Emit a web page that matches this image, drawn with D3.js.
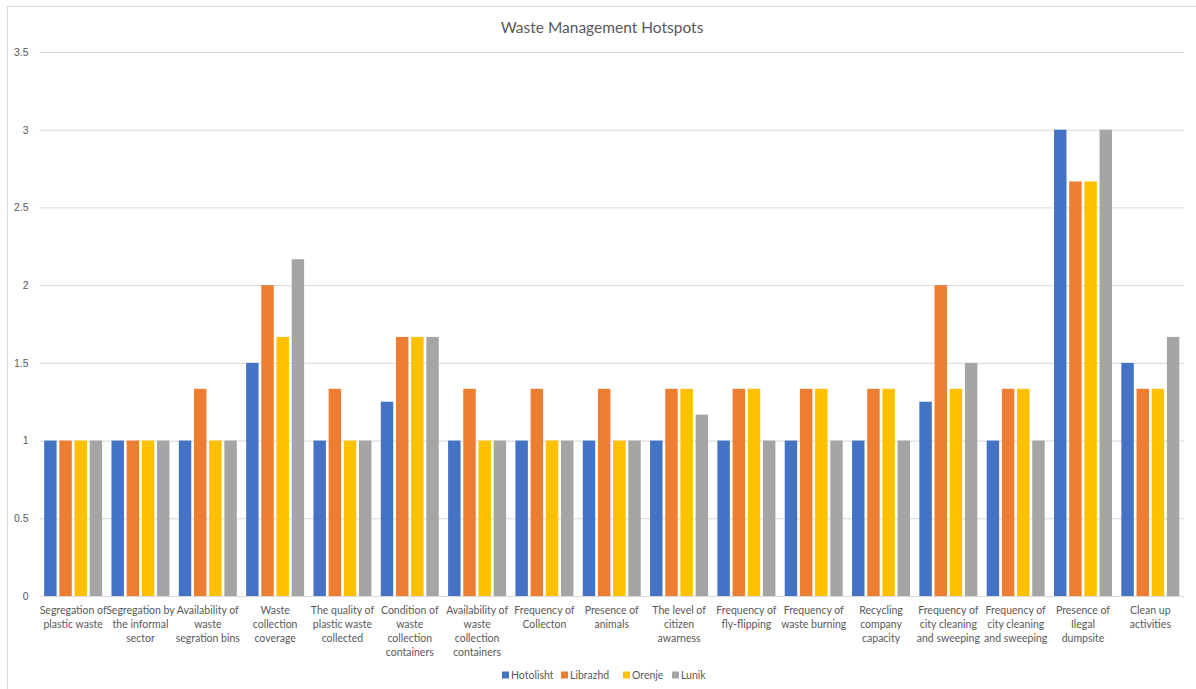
<!DOCTYPE html>
<html>
<head>
<meta charset="utf-8">
<script src="https://cdn.jsdelivr.net/npm/d3@7"></script>
<style>
  html, body { margin: 0; padding: 0; background: #fff; }
  svg { display: block; font-family: Lato, "Open Sans", "Liberation Sans", sans-serif; }
</style>
</head>
<body>
<svg id="chart" width="1196" height="689"></svg>
<script>
const title = "Waste Management Hotspots";
const categories = [
  "Segregation of\nplastic waste",
  "Segregation by\nthe informal\nsector",
  "Availability of\nwaste\nsegration bins",
  "Waste\ncollection\ncoverage",
  "The quality of\nplastic waste\ncollected",
  "Condition of\nwaste\ncollection\ncontainers",
  "Availability of\nwaste\ncollection\ncontainers",
  "Frequency of\nCollecton",
  "Presence of\nanimals",
  "The level of\ncitizen\nawarness",
  "Frequency of\nfly-flipping",
  "Frequency of\nwaste burning",
  "Recycling\ncompany\ncapacity",
  "Frequency of\ncity cleaning\nand sweeping",
  "Frequency of\ncity cleaning\nand sweeping",
  "Presence of\nIlegal\ndumpsite",
  "Clean up\nactivities"
];
const seriesNames = ["Hotolisht", "Librazhd", "Orenje", "Lunik"];
const hotolisht = [1, 1, 1, 1.5, 1, 1.25, 1, 1, 1, 1, 1, 1, 1, 1.25, 1, 3, 1.5];
const librazhd  = [1, 1, 1.333, 2, 1.333, 1.667, 1.333, 1.333, 1.333, 1.333, 1.333, 1.333, 1.333, 2, 1.333, 2.667, 1.333];
const orenje    = [1, 1, 1, 1.667, 1, 1.667, 1, 1, 1, 1.333, 1.333, 1.333, 1.333, 1.333, 1.333, 2.667, 1.333];
const lunik     = [1, 1, 1, 2.167, 1, 1.667, 1, 1, 1, 1.167, 1, 1, 1, 1.5, 1, 3, 1.667];
const yTicks = [0, 0.5, 1, 1.5, 2, 2.5, 3, 3.5];
const colors = ["#4472C4", "#ED7D31", "#FFC000", "#A5A5A5"];

const seriesValues = [hotolisht, librazhd, orenje, lunik];

const svg = d3.select("#chart");
const W = 1196, H = 689;
const plot = { left: 39.5, right: 1184, top: 52, bottom: 596 };

// chart frame
svg.append("rect")
  .attr("x", 7.5).attr("y", 6.5)
  .attr("width", W).attr("height", H)
  .attr("fill", "#fff").attr("stroke", "#d9d9d9").attr("stroke-width", 1);

const x = d3.scaleBand().domain(d3.range(categories.length))
  .range([plot.left, plot.right]).paddingInner(0).paddingOuter(0);
const groupWidth = 58;
const xs = d3.scaleBand().domain(d3.range(seriesNames.length))
  .range([0, groupWidth]).paddingInner(0.18).paddingOuter(0);
const y = d3.scaleLinear().domain([0, 3.5]).range([plot.bottom, plot.top]);

// gridlines
const yAxis = d3.axisLeft(y).tickValues(yTicks)
  .tickSize(-(plot.right - plot.left)).tickPadding(11)
  .tickFormat(d => d === 0 ? "0" : String(d));
const gy = svg.append("g").attr("transform", `translate(${plot.left},0)`).call(yAxis);
gy.select(".domain").remove();
gy.selectAll(".tick line").attr("stroke", "#d9d9d9").attr("stroke-width", 1);
gy.selectAll(".tick text").attr("fill", "#595959").style("font-size", "10.5px");

// bars
const groups = svg.append("g").selectAll("g")
  .data(categories).join("g")
  .attr("transform", (d, i) => `translate(${x(i) + (x.bandwidth() - groupWidth) / 2},0)`);
groups.selectAll("rect")
  .data((d, i) => seriesValues.map((s, k) => ({ k, v: s[i] })))
  .join("rect")
  .attr("x", d => xs(d.k))
  .attr("width", xs.bandwidth())
  .attr("y", d => y(d.v))
  .attr("height", d => y(0) - y(d.v))
  .attr("fill", d => colors[d.k]);

// x baseline
svg.append("line")
  .attr("x1", plot.left).attr("x2", plot.right)
  .attr("y1", y(0) + 0.5).attr("y2", y(0) + 0.5)
  .attr("stroke", "#d9d9d9");

// x labels
const xl = svg.append("g").selectAll("text")
  .data(categories).join("text")
  .attr("x", (d, i) => x(i) + x.bandwidth() / 2)
  .attr("y", 614)
  .attr("text-anchor", "middle")
  .attr("fill", "#595959")
  .style("font-size", "10.5px");
xl.each(function(d) {
  const t = d3.select(this);
  d.split("\n").forEach((line, j) => {
    t.append("tspan").attr("x", t.attr("x")).attr("dy", j === 0 ? 0 : 14).text(line);
  });
});

// title
svg.append("text")
  .attr("x", 602).attr("y", 33)
  .attr("text-anchor", "middle")
  .attr("fill", "#595959")
  .style("font-size", "15.5px")
  .text(title);

// legend
const legendX = [502, 561, 623, 672];
const lg = svg.append("g").selectAll("g")
  .data(seriesNames).join("g")
  .attr("transform", (d, i) => `translate(${legendX[i]},675)`);
lg.append("rect").attr("x", 0).attr("y", -3.5).attr("width", 7).attr("height", 7)
  .attr("fill", (d, i) => colors[i]);
lg.append("text").attr("x", 9).attr("y", 3.8)
  .attr("fill", "#595959").style("font-size", "10.5px")
  .text(d => d);
</script>
</body>
</html>
